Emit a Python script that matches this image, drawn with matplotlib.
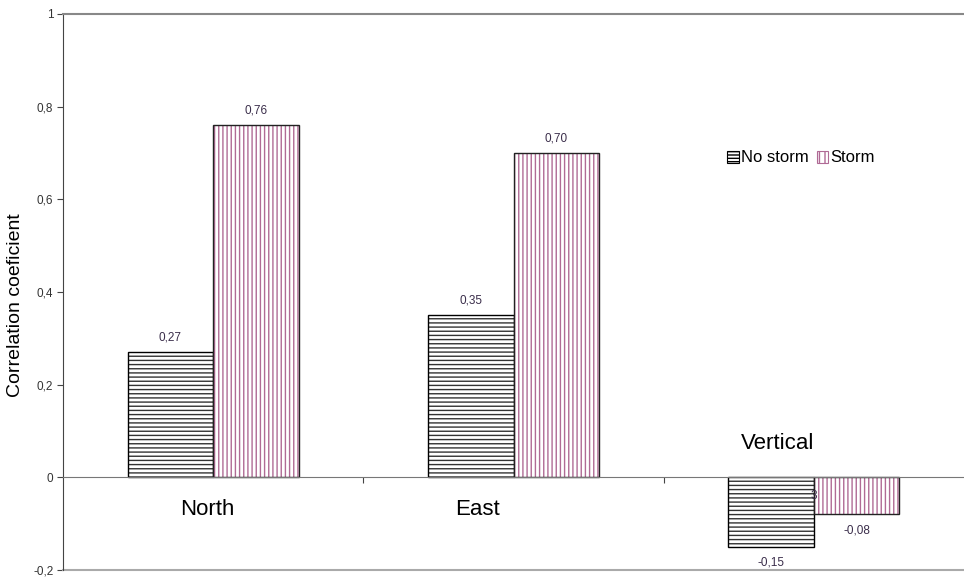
import numpy as np
import matplotlib
matplotlib.use('Agg')
import matplotlib.pyplot as plt
from matplotlib.patches import Patch

plt.rcParams['font.family'] = ['Liberation Sans', 'DejaVu Sans']
plt.rcParams['hatch.linewidth'] = 1.0

# DATA
components = ['North', 'East', 'Vertical']
no_storm = [0.27, 0.35, -0.15]
storm = [0.76, 0.70, -0.08]
yticks = [-0.2, 0, 0.2, 0.4, 0.6, 0.8, 1.0]
ytick_labels = ['-0,2', '0', '0,2', '0,4', '0,6', '0,8', '1']

# label spots for category names (data coords, as placed in the original)
name_pos = [(-0.02, -0.07), (0.88, -0.07), (1.88, 0.073)]

def fmt(v):
    return ('%.2f' % v).replace('.', ',')

fig = plt.figure(figsize=(9.64, 5.77), dpi=100)
ax = fig.add_axes([63/964, 7/577, 901/964, 556/577])

x = np.arange(len(components))
w = 0.285
hatch_ns = '#333333'
hatch_st = '#b06a95'
label_col = '#3a2d4a'

# hatched fill, then outline on top
ax.bar(x - w/2, no_storm, w, color='white', edgecolor=hatch_ns, hatch='----', linewidth=0)
ax.bar(x - w/2, no_storm, w, fill=False, edgecolor='black', linewidth=1.0)
ax.bar(x + w/2, storm, w, color='white', edgecolor=hatch_st, hatch='||||', linewidth=0)
ax.bar(x + w/2, storm, w, fill=False, edgecolor='#222222', linewidth=1.0)

for xi, v in zip(x - w/2, no_storm):
    ax.annotate(fmt(v), (xi, v), xytext=(0, 6 if v > 0 else -7), textcoords='offset points',
                ha='center', va='bottom' if v > 0 else 'top', fontsize=8.5, color=label_col)
for xi, v in zip(x + w/2, storm):
    ax.annotate(fmt(v), (xi, v), xytext=(0, 6 if v > 0 else -7), textcoords='offset points',
                ha='center', va='bottom' if v > 0 else 'top', fontsize=8.5, color=label_col)

# leftover clipped label next to the vertical bars
ax.text(2.0, -0.04, '3', ha='center', va='center', fontsize=8.5, color=label_col)

for name, (px, py) in zip(components, name_pos):
    ax.text(px, py, name, ha='center', va='center', fontsize=16, color='black')

ax.set_xlim(-0.5, 2.5)
ax.set_ylim(-0.2, 1.0)
ax.set_yticks(yticks)
ax.set_yticklabels(ytick_labels)
ax.tick_params(axis='y', length=4, width=0.8, color='#444444', labelsize=8.5,
               labelcolor='#333333', pad=3)

# x axis sits on zero, ticks only between categories
ax.spines['bottom'].set_position(('data', 0))
ax.spines['bottom'].set_color('#777777')
ax.set_xticks([0.5, 1.5])
ax.set_xticklabels([])
ax.tick_params(axis='x', direction='out', length=4, width=0.8, color='#444444')
ax.axhline(-0.2, color='#aaaaaa', linewidth=1.5, clip_on=False)

ax.spines['left'].set_color('#444444')
ax.spines['top'].set_color('#888888')
ax.spines['top'].set_linewidth(1.5)
ax.spines['right'].set_visible(False)

ax.set_ylabel('Correlation coeficient', fontsize=14)
ax.yaxis.set_label_coords(-0.043, 0.477)

handles = [Patch(facecolor='white', edgecolor='black', hatch='-----', linewidth=0.8),
           Patch(facecolor='white', edgecolor=hatch_st, hatch='|||', linewidth=0.8)]
fig.legend(handles, ['No storm', 'Storm'], loc='center', bbox_to_anchor=(801/964, 1 - 158/577),
           ncol=2, frameon=False, fontsize=12, handlelength=0.7, handleheight=0.7,
           handletextpad=0.1, columnspacing=0.5)

fig.savefig('out.png', dpi=100)
